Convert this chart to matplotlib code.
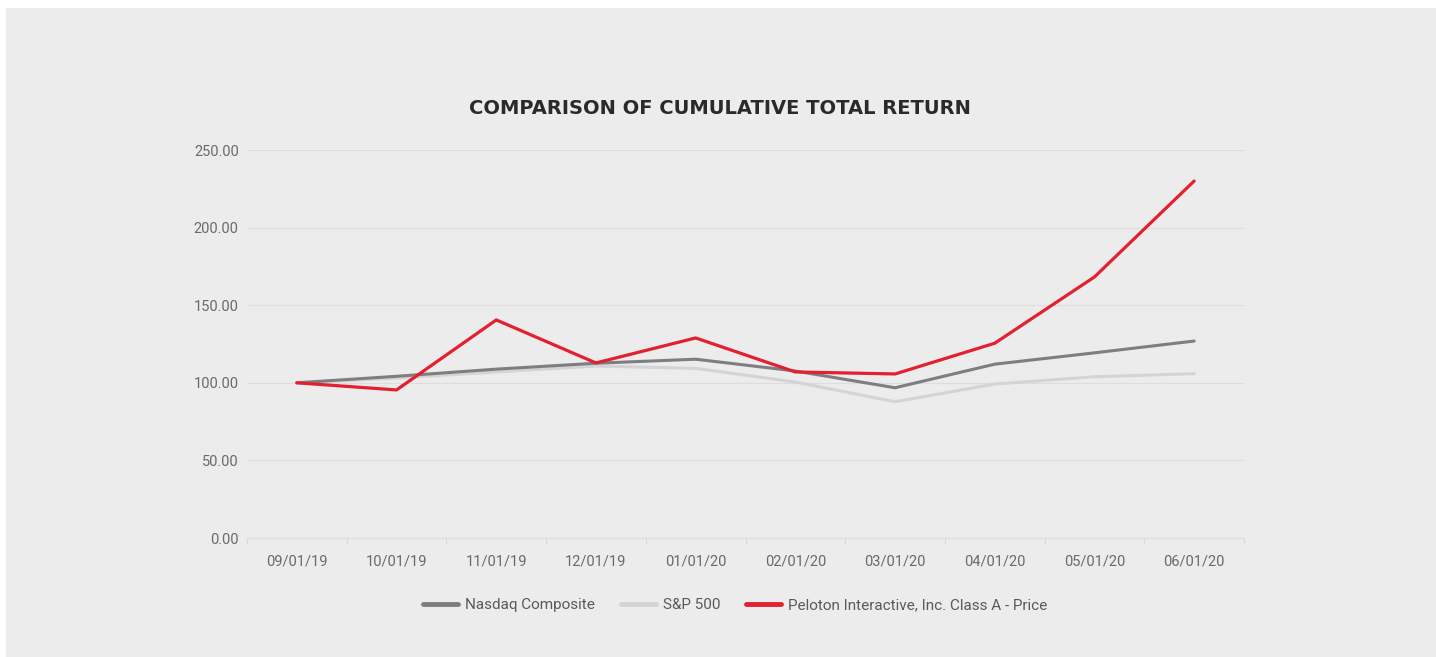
import numpy as np
import matplotlib.pyplot as plt
from matplotlib.patches import Rectangle

months = ['09/01/19', '10/01/19', '11/01/19', '12/01/19', '01/01/20',
          '02/01/20', '03/01/20', '04/01/20', '05/01/20', '06/01/20']
nasdaq = [100.0, 104.2, 108.8, 112.6, 115.2, 107.6, 96.8, 112.0, 119.3, 126.9]
sp500 = [100.0, 103.0, 107.0, 110.8, 109.3, 100.5, 87.8, 99.2, 103.9, 105.9]
peloton = [100.0, 95.4, 140.5, 112.8, 128.9, 107.0, 105.7, 125.5, 168.2, 230.0]
yticks = [0, 50, 100, 150, 200, 250]

bg = '#ececec'
tickFont = {'family': 'Roboto', 'size': 10.5, 'color': '#6a6a6a'}

fig = plt.figure(figsize=(14.36, 6.57), dpi=100, facecolor='white')
fig.patches.append(Rectangle((6 / 1436, 0), 1 - 6 / 1436, 1 - 8 / 657,
                             transform=fig.transFigure, facecolor=bg,
                             edgecolor='none', zorder=-10))

ax = fig.add_axes([247 / 1436, 1 - 538 / 657, 997 / 1436, 388 / 657])
ax.patch.set_visible(False)

x = np.arange(len(months))
ax.plot(x, sp500, color='#d4d4d6', lw=2.2, label='S&P 500', solid_capstyle='round', zorder=3)
ax.plot(x, nasdaq, color='#7e7e82', lw=2.2, label='Nasdaq Composite', solid_capstyle='round', zorder=4)
ax.plot(x, peloton, color='#e3202f', lw=2.3, label='Peloton Interactive, Inc. Class A - Price',
        solid_capstyle='round', zorder=5)

ax.set_xlim(-0.5, len(months) - 0.5)
ax.set_ylim(0, 250)
ax.set_yticks(yticks)
ax.set_yticklabels(['%.2f' % v for v in yticks], **tickFont)
ax.grid(axis='y', color='#dddddd', lw=0.9, zorder=1)
ax.set_axisbelow(True)

ax.set_xticks(x)
ax.set_xticklabels(months, **tickFont)
ax.set_xticks(np.arange(-0.5, len(months), 1), minor=True)
ax.tick_params(axis='x', which='major', length=0, pad=12)
ax.tick_params(axis='x', which='minor', length=4, color='#d8d8d8', width=0.8)
ax.tick_params(axis='y', length=0, pad=6)

for s in ['top', 'right', 'left']:
    ax.spines[s].set_visible(False)
ax.spines['bottom'].set_color('#dddddd')
ax.spines['bottom'].set_linewidth(0.9)

fig.text(720 / 1436, 1 - 108 / 657, 'COMPARISON OF CUMULATIVE TOTAL RETURN',
         ha='center', va='center', fontsize=14, fontweight='bold',
         family='DejaVu Sans', color='#2a2a2a')

h, l = ax.get_legend_handles_labels()
order = [1, 0, 2]
leg = fig.legend([h[i] for i in order], [l[i] for i in order], loc='center',
                 bbox_to_anchor=(735 / 1436, 1 - 605 / 657), ncol=3, frameon=False,
                 prop={'family': 'Roboto', 'size': 11}, handlelength=2.3,
                 columnspacing=1.7, handletextpad=0.45)
for line in leg.get_lines():
    line.set_linewidth(3.5)
for t in leg.get_texts():
    t.set_color('#5a5a5a')

fig.savefig('out.png', dpi=100, facecolor='white')
